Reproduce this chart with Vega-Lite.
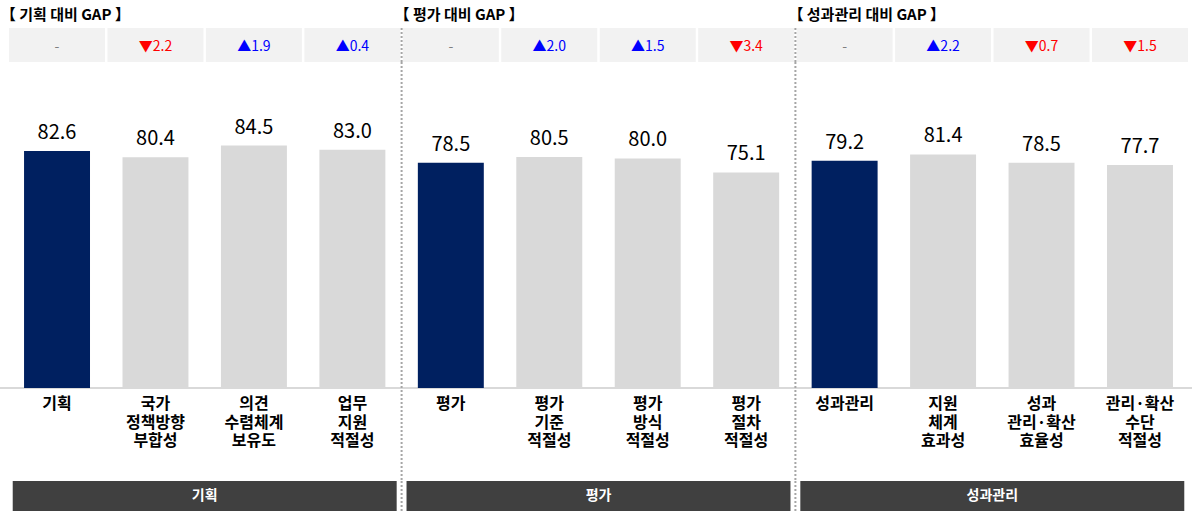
{
  "$schema": "https://vega.github.io/schema/vega-lite/v6.json",
  "padding": 0,
  "spacing": 0,
  "bounds": "flush",
  "background": "white",
  "resolve": {"scale": {"color": "independent"}},
  "config": {"view": {"stroke": null}, "font": "Noto Sans CJK KR", "concat": {"spacing": 0}},
  "datasets": {
    "items": [
      {"label": "기획", "group": "기획", "kind": "total", "value": 82.6, "gap": "-", "dir": "none"},
      {"label": "국가\n정책방향\n부합성", "group": "기획", "kind": "item", "value": 80.4, "gap": "▼2.2", "dir": "down"},
      {"label": "의견\n수렴체계\n보유도", "group": "기획", "kind": "item", "value": 84.5, "gap": "▲1.9", "dir": "up"},
      {"label": "업무\n지원\n적절성", "group": "기획", "kind": "item", "value": 83.0, "gap": "▲0.4", "dir": "up"},
      {"label": "평가", "group": "평가", "kind": "total", "value": 78.5, "gap": "-", "dir": "none"},
      {"label": "평가\n기준\n적절성", "group": "평가", "kind": "item", "value": 80.5, "gap": "▲2.0", "dir": "up"},
      {"label": "평가\n방식\n적절성", "group": "평가", "kind": "item", "value": 80.0, "gap": "▲1.5", "dir": "up"},
      {"label": "평가\n절차\n적절성", "group": "평가", "kind": "item", "value": 75.1, "gap": "▼3.4", "dir": "down"},
      {"label": "성과관리", "group": "성과관리", "kind": "total", "value": 79.2, "gap": "-", "dir": "none"},
      {"label": "지원\n체계\n효과성", "group": "성과관리", "kind": "item", "value": 81.4, "gap": "▲2.2", "dir": "up"},
      {"label": "성과\n관리·확산\n효율성", "group": "성과관리", "kind": "item", "value": 78.5, "gap": "▼0.7", "dir": "down"},
      {"label": "관리·확산\n수단\n적절성", "group": "성과관리", "kind": "item", "value": 77.7, "gap": "▼1.5", "dir": "down"}
    ],
    "groups": [
      {"group": "기획", "title": "【 기획 대비 GAP 】"},
      {"group": "평가", "title": "【 평가 대비 GAP 】"},
      {"group": "성과관리", "title": "【 성과관리 대비 GAP 】"}
    ]
  },
  "vconcat": [
    {
      "width": 1192, "height": 28,
      "data": {"name": "groups"},
      "mark": {"type": "text", "align": "left", "fontSize": 15, "fontWeight": "bold", "dx": -7, "dy": 1, "color": "#000000"},
      "encoding": {
        "x": {"field": "group", "type": "nominal", "sort": null, "bandPosition": 0, "axis": null,
              "scale": {"type": "band", "paddingInner": 0, "paddingOuter": 0, "range": [7.8, 1189.2]}},
        "text": {"field": "title"}
      }
    },
    {
      "width": 1192, "height": 34,
      "data": {"name": "items"},
      "layer": [
        {
          "mark": {"type": "bar", "color": "#f2f2f2", "width": {"band": 0.975}},
          "encoding": {
            "x": {"field": "label", "type": "nominal", "sort": null, "axis": null,
                  "scale": {"type": "band", "paddingInner": 0, "paddingOuter": 0, "range": [7.8, 1189.2]}}
          }
        },
        {
          "mark": {"type": "text", "fontSize": 14, "dy": 2},
          "encoding": {
            "x": {"field": "label", "type": "nominal", "sort": null, "axis": null},
            "text": {"field": "gap"},
            "color": {"field": "dir", "type": "nominal", "legend": null,
                      "scale": {"domain": ["none", "up", "down"], "range": ["#7f7f7f", "#0000ff", "#ff0000"]}}
          }
        },
        {
          "transform": [{"filter": "datum.kind == 'total' && datum.group != '기획'"}],
          "mark": {"type": "rule", "color": "#a6a6a6", "strokeWidth": 2, "strokeDash": [2, 2], "clip": true},
          "encoding": {
            "x": {"field": "label", "type": "nominal", "sort": null, "bandPosition": 0, "axis": null}
          }
        }
      ]
    },
    {
      "width": 1192, "height": 419,
      "data": {"name": "items"},
      "layer": [
        {
          "mark": {"type": "rule", "color": "#d9d9d9", "strokeWidth": 1.5, "clip": true},
          "encoding": {
            "y": {"datum": 0, "type": "quantitative", "axis": null,
                  "scale": {"domain": [-32.4, 113.6], "nice": false, "zero": false}}
          }
        },
        {
          "mark": {"type": "bar", "width": {"band": 0.67}},
          "encoding": {
            "x": {"field": "label", "type": "nominal", "sort": null, "axis": null,
                  "scale": {"type": "band", "paddingInner": 0, "paddingOuter": 0, "range": [7.8, 1189.2]}},
            "y": {"field": "value", "type": "quantitative", "axis": null,
                  "scale": {"domain": [-32.4, 113.6], "nice": false, "zero": false}},
            "y2": {"datum": 0},
            "color": {"field": "kind", "type": "nominal", "legend": null,
                      "scale": {"domain": ["total", "item"], "range": ["#002060", "#d9d9d9"]}}
          }
        },
        {
          "mark": {"type": "text", "fontSize": 20, "dy": -12, "baseline": "alphabetic", "color": "#000000"},
          "encoding": {
            "x": {"field": "label", "type": "nominal", "sort": null, "axis": null},
            "y": {"field": "value", "type": "quantitative", "axis": null},
            "text": {"field": "value", "type": "quantitative", "format": ".1f"}
          }
        },
        {
          "mark": {"type": "text", "fontSize": 16, "fontWeight": "bold", "baseline": "top", "dy": 8, "lineBreak": "\n", "lineHeight": 18.5, "color": "#000000"},
          "encoding": {
            "x": {"field": "label", "type": "nominal", "sort": null, "axis": null},
            "y": {"datum": 0, "type": "quantitative", "axis": null},
            "text": {"field": "label"}
          }
        },
        {
          "transform": [{"filter": "datum.kind == 'total' && datum.group != '기획'"}],
          "mark": {"type": "rule", "color": "#a6a6a6", "strokeWidth": 2, "strokeDash": [2, 2], "clip": true},
          "encoding": {
            "x": {"field": "label", "type": "nominal", "sort": null, "bandPosition": 0, "axis": null}
          }
        }
      ]
    },
    {
      "width": 1192, "height": 30,
      "data": {"name": "groups"},
      "layer": [
        {
          "mark": {"type": "bar", "color": "#404040", "width": {"band": 0.975}},
          "encoding": {
            "x": {"field": "group", "type": "nominal", "sort": null, "axis": null,
                  "scale": {"type": "band", "paddingInner": 0, "paddingOuter": 0, "range": [7.8, 1189.2]}}
          }
        },
        {
          "mark": {"type": "text", "color": "#ffffff", "fontWeight": "bold", "fontSize": 14},
          "encoding": {
            "x": {"field": "group", "type": "nominal", "sort": null, "axis": null},
            "text": {"field": "group"}
          }
        },
        {
          "transform": [{"filter": "datum.group != '기획'"}],
          "mark": {"type": "rule", "color": "#a6a6a6", "strokeWidth": 2, "strokeDash": [2, 2], "clip": true},
          "encoding": {
            "x": {"field": "group", "type": "nominal", "sort": null, "bandPosition": 0, "axis": null}
          }
        }
      ]
    }
  ]
}
